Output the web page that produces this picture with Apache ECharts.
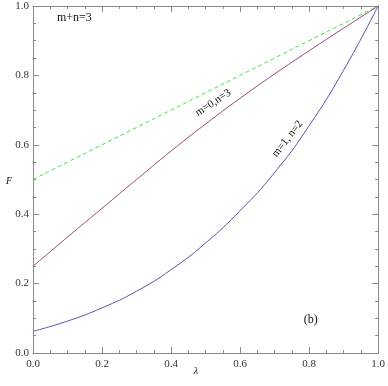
<!DOCTYPE html>
<html>
<head>
<meta charset="utf-8">
<script src="https://cdn.jsdelivr.net/npm/echarts@6/dist/echarts.min.js"></script>
<style>
  html, body { margin: 0; padding: 0; background: #fff; }
  #main { width: 388px; height: 386px; }
</style>
</head>
<body>
<div id="main"></div>
<script>
  // values
  let lambdas = [0, 0.1, 0.2, 0.3, 0.4, 0.5, 0.6, 0.7, 0.8, 0.9, 1.0]
  let fGreen = [0.5, 0.55, 0.6, 0.65, 0.7, 0.75, 0.8, 0.85, 0.9, 0.95, 1.0]
  let fRed = [0.25, 0.334, 0.417, 0.5, 0.582, 0.66, 0.734, 0.804, 0.871, 0.936, 1.0]
  let fBlue = [0.0625, 0.092, 0.13, 0.178, 0.24, 0.317, 0.41, 0.52, 0.655, 0.815, 1.0]
  let tickLabels = ['0.0', '0.2', '0.4', '0.6', '0.8', '1.0']

  let serif = 'Liberation Serif'
  let chart = echarts.init(document.getElementById('main'))

  let pairs = (ys) => lambdas.map((x, i) => [x, ys[i]])
  let fmt = (v) => tickLabels[Math.round(v * 5)] || ''

  let frameAxis = (extra) => Object.assign({
    type: 'value',
    min: 0,
    max: 1,
    interval: 0.2,
    axisLine: { show: true, onZero: false, lineStyle: { color: '#8a8a8a', width: 1 } },
    axisTick: { show: true, inside: true, length: 6, lineStyle: { color: '#8a8a8a' } },
    minorTick: { show: true, splitNumber: 4, length: 3, lineStyle: { color: '#8a8a8a' } },
    splitLine: { show: false },
    axisLabel: { show: false }
  }, extra)

  let tickText = (margin) => ({ show: true, color: '#333', fontFamily: serif, fontSize: 11, margin: margin, formatter: fmt })

  chart.setOption({
    animation: false,
    grid: { left: 33, right: 6, top: 6, bottom: 33, containLabel: false },
    xAxis: [
      frameAxis({ position: 'bottom', axisLabel: tickText(6) }),
      frameAxis({ position: 'top' })
    ],
    yAxis: [
      frameAxis({ position: 'left', axisLabel: tickText(4) }),
      frameAxis({ position: 'right' })
    ],
    series: [
      {
        type: 'line', smooth: true, symbol: 'none', data: pairs(fGreen),
        lineStyle: { color: '#3ee83e', width: 1, type: [4, 3] }
      },
      {
        type: 'line', smooth: true, symbol: 'none', data: pairs(fRed),
        lineStyle: { color: '#a0477a', width: 1 }
      },
      {
        type: 'line', smooth: true, symbol: 'none', data: pairs(fBlue),
        lineStyle: { color: '#5656b4', width: 1 }
      }
    ]
  })

  let px = (x, y) => chart.convertToPixel({ xAxisIndex: 0, yAxisIndex: 0 }, [x, y])
  let txt = (pos, text, rot, size, style) => ({
    type: 'text',
    x: pos[0], y: pos[1],
    rotation: rot * Math.PI / 180,
    style: {
      text: text, fill: '#111', fontFamily: serif, fontSize: size,
      fontStyle: style || 'normal', align: 'center', verticalAlign: 'middle'
    }
  })

  chart.setOption({
    graphic: [
      txt(px(0.12, 0.965), 'm+n=3', 0, 12),
      txt(px(0.805, 0.095), '(b)', 0, 12),
      txt(px(0.522, 0.721), 'm=0,n=3', 33.5, 11),
      txt(px(0.737, 0.617), 'm=1, n=2', 52, 11),
      txt([9, 181], 'F', 0, 10, 'italic'),
      txt([196, 371], 'λ', 0, 10, 'italic')
    ]
  })
</script>
</body>
</html>
